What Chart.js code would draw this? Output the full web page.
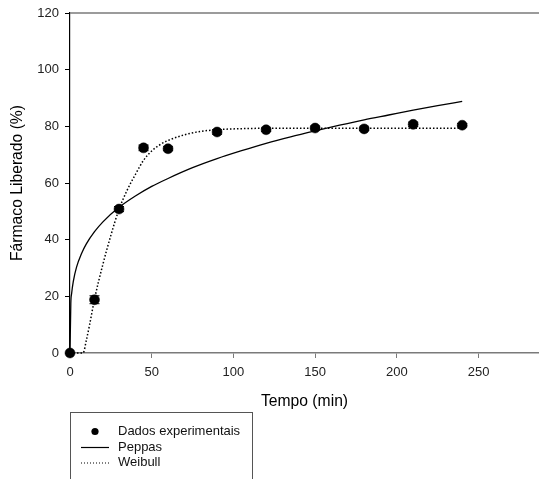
<!DOCTYPE html>
<html>
<head>
<meta charset="utf-8">
<title>Fármaco Liberado</title>
<script src="https://cdn.jsdelivr.net/npm/chart.js@4/dist/chart.umd.min.js"></script>
<style>
  html, body { margin: 0; padding: 0; background: #ffffff; }
  #wrap { width: 539px; height: 479px; }
</style>
</head>
<body>
<div id="wrap"><canvas id="chart" width="539" height="479"></canvas></div>
<script>
// Experimental release data (mean ± error)
const times = [0, 15, 30, 45, 60, 90, 120, 150, 180, 210, 240];
const released = [0, 18.8, 50.8, 72.4, 72.1, 78.0, 78.8, 79.4, 79.1, 80.7, 80.4];
const errors = [0, 1.4, 0.9, 1.0, 0.7, 0.8, 0.6, 0.7, 0.6, 0.8, 0.6];

// Peppas model curve
const peppasTime = [0, 0.5, 1, 2, 4, 7, 10, 15, 20, 30, 40, 50, 60, 75, 90, 105, 120, 135, 150, 165, 180, 195, 210, 225, 240];
const peppasFit = [0, 17.5, 21.0, 25.2, 30.3, 35.0, 38.5, 42.8, 46.2, 51.4, 55.4, 58.8, 61.6, 65.4, 68.6, 71.4, 74.0, 76.3, 78.4, 80.4, 82.3, 84.0, 85.7, 87.3, 88.8];

// Weibull model curve
const weibullTime = [0, 8, 10, 12, 15, 20, 25, 30, 35, 40, 45, 50, 55, 60, 70, 80, 90, 100, 120, 150, 180, 210, 240];
const weibullFit = [0, 0, 4.5, 10, 19, 31, 41.5, 50.7, 57.5, 63, 68, 71.3, 73.5, 75, 77, 78.2, 78.8, 79.1, 79.3, 79.3, 79.3, 79.3, 79.3];

// Axis settings and text
const xTicks = [0, 50, 100, 150, 200, 250];
const yTicks = [0, 20, 40, 60, 80, 100, 120];
const xTitle = 'Tempo (min)';
const yTitle = 'Fármaco Liberado (%)';
const seriesNames = ['Dados experimentais', 'Peppas', 'Weibull'];

const FONT = '"Liberation Sans", Arial, Helvetica, sans-serif';
const AXIS_GREY = '#7a7a7a';

const toXY = (xs, ys) => xs.map((x, i) => ({ x: x, y: ys[i] }));

// Vertical error bars with caps for the experimental points
const errorBars = {
  id: 'errorBars',
  afterDatasetsDraw(chart) {
    const meta = chart.getDatasetMeta(0);
    const ys = chart.scales.y;
    const ctx = chart.ctx;
    ctx.save();
    ctx.strokeStyle = '#000';
    ctx.lineWidth = 1;
    meta.data.forEach((pt, i) => {
      const e = errors[i];
      if (!e) return;
      const yTop = ys.getPixelForValue(released[i] + e);
      const yBot = ys.getPixelForValue(released[i] - e);
      ctx.beginPath();
      ctx.moveTo(pt.x, yTop); ctx.lineTo(pt.x, yBot);
      ctx.moveTo(pt.x - 5, yTop); ctx.lineTo(pt.x + 5, yTop);
      ctx.moveTo(pt.x - 5, yBot); ctx.lineTo(pt.x + 5, yBot);
      ctx.stroke();
    });
    ctx.restore();
  }
};

// Top frame line and boxed legend under the plot
const frameAndLegend = {
  id: 'frameAndLegend',
  afterDraw(chart) {
    const ctx = chart.ctx;
    const area = chart.chartArea;
    ctx.save();
    // top frame line
    ctx.strokeStyle = AXIS_GREY;
    ctx.lineWidth = 1.5;
    ctx.beginPath();
    ctx.moveTo(area.left, area.top);
    ctx.lineTo(area.right, area.top);
    ctx.stroke();

    // legend box
    const bx = 70.5, by = 412.5, bw = 182;
    ctx.strokeStyle = '#555';
    ctx.lineWidth = 1;
    ctx.strokeRect(bx, by, bw, 100);

    const ds = chart.data.datasets;
    ctx.font = '13px ' + FONT;
    ctx.textBaseline = 'middle';
    ctx.textAlign = 'left';
    const rows = [431.5, 447, 462.5];
    const textX = 118;
    // marker: filled circle
    ctx.beginPath();
    ctx.arc(95, rows[0], 3.6, 0, Math.PI * 2);
    ctx.fillStyle = '#000';
    ctx.fill();
    // solid line
    ctx.strokeStyle = '#000';
    ctx.lineWidth = 1.2;
    ctx.beginPath();
    ctx.moveTo(81, rows[1] + 0.5); ctx.lineTo(109, rows[1] + 0.5);
    ctx.stroke();
    // dotted line
    ctx.setLineDash([1, 2]);
    ctx.beginPath();
    ctx.moveTo(81, rows[2] + 0.5); ctx.lineTo(109, rows[2] + 0.5);
    ctx.stroke();
    ctx.setLineDash([]);
    ctx.fillStyle = '#111';
    ds.forEach((d, i) => ctx.fillText(d.label, textX, rows[i]));
    ctx.restore();
  }
};

new Chart(document.getElementById('chart'), {
  type: 'scatter',
  data: {
    datasets: [
      {
        label: seriesNames[0],
        data: toXY(times, released),
        showLine: false,
        pointRadius: 5,
        pointHoverRadius: 5,
        pointBackgroundColor: '#000',
        pointBorderColor: '#000',
        pointBorderWidth: 0.5,
        clip: false
      },
      {
        label: seriesNames[1],
        data: toXY(peppasTime, peppasFit),
        showLine: true,
        pointRadius: 0,
        borderColor: '#000',
        borderWidth: 1.3,
        cubicInterpolationMode: 'monotone',
        clip: false
      },
      {
        label: seriesNames[2],
        data: toXY(weibullTime, weibullFit),
        showLine: true,
        pointRadius: 0,
        borderColor: '#000',
        borderWidth: 1.5,
        borderDash: [1.5, 2],
        cubicInterpolationMode: 'monotone',
        clip: false
      }
    ]
  },
  options: {
    responsive: false,
    animation: false,
    devicePixelRatio: 1,
    layout: { autoPadding: false, padding: { left: 0, right: 0, top: 13, bottom: 66 } },
    plugins: {
      legend: { display: false },
      tooltip: { enabled: false }
    },
    scales: {
      x: {
        type: 'linear',
        min: 0,
        max: 287,
        afterFit(scale) {
          scale.height = 60;
          scale.paddingLeft = 0;
          scale.paddingRight = 0;
        },
        afterBuildTicks(scale) { scale.ticks = xTicks.map(v => ({ value: v })); },
        ticks: {
          color: '#222',
          padding: 7,
          font: { family: FONT, size: 13 },
          maxRotation: 0
        },
        grid: {
          drawOnChartArea: false,
          drawTicks: true,
          tickLength: 5,
          color: AXIS_GREY,
          tickColor: AXIS_GREY,
          tickWidth: 1
        },
        border: { display: true, color: AXIS_GREY, width: 1.5 },
        title: {
          display: true,
          text: xTitle,
          color: '#000',
          font: { family: FONT, size: 15.7 },
          padding: { top: 0, bottom: 2 }
        }
      },
      y: {
        type: 'linear',
        min: 0,
        max: 120,
        afterFit(scale) {
          scale.width = 70;
          scale.paddingTop = 0;
          scale.paddingBottom = 0;
        },
        afterBuildTicks(scale) { scale.ticks = yTicks.map(v => ({ value: v })); },
        ticks: {
          color: '#222',
          padding: 6,
          font: { family: FONT, size: 13 }
        },
        grid: {
          drawOnChartArea: false,
          drawTicks: true,
          tickLength: 5,
          color: '#000',
          tickColor: '#000',
          tickWidth: 1
        },
        border: { display: true, color: '#000', width: 1.2 },
        title: {
          display: true,
          text: yTitle,
          color: '#000',
          font: { family: FONT, size: 15.7 },
          padding: { top: 8, bottom: 0 }
        }
      }
    }
  },
  plugins: [errorBars, frameAndLegend]
});
</script>
</body>
</html>
